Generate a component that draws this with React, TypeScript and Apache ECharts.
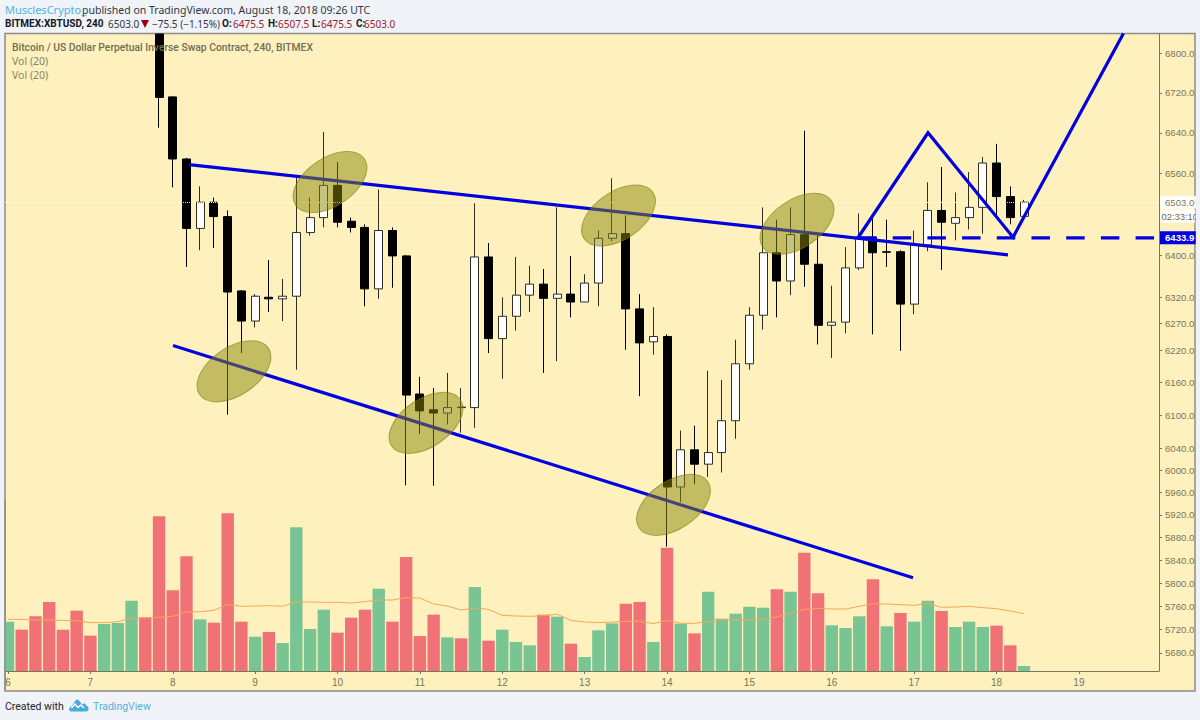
import React, { useEffect, useRef } from "react";
import * as echarts from "echarts";

// x values are days of August 2018; one bar lasts 4 hours
const barsPerDay = 6;
const firstDay = 6;
const firstCandleIndex = 11;
const dayTicks = [6, 7, 8, 9, 10, 11, 12, 13, 14, 15, 16, 17, 18, 19];
const priceTicks = [6800, 6720, 6640, 6560, 6400, 6320, 6270, 6220, 6160, 6100, 6040, 6000, 5960, 5920, 5880, 5840, 5800, 5760, 5720, 5680];

const opens = [6840, 6712, 6588, 6452, 6503, 6475, 6332, 6275, 6320, 6317, 6322, 6444, 6473, 6536, 6466, 6454, 6336, 6448, 6399, 6139, 6110, 6104, 6114, 6114, 6397, 6242, 6284, 6324, 6345, 6318, 6326, 6311, 6347, 6433, 6442, 6298, 6236, 6246, 5970, 6037, 6011, 6032, 6090, 6195, 6286, 6405, 6351, 6440, 6383, 6267, 6273, 6376, 6435, 6407, 6407, 6307, 6420, 6487, 6462, 6473, 6493, 6580, 6514, 6475.5];
const closes = [6711, 6588, 6452, 6503, 6475, 6330, 6275, 6322, 6317, 6322, 6444, 6473, 6536, 6464, 6454, 6336, 6448, 6399, 6137, 6108, 6104, 6114, 6115, 6397, 6242, 6284, 6324, 6345, 6318, 6326, 6311, 6347, 6433, 6442, 6298, 6234, 6246, 5970, 6037, 6011, 6032, 6090, 6195, 6286, 6405, 6351, 6440, 6383, 6267, 6273, 6376, 6435, 6405, 6406, 6307, 6420, 6487, 6464, 6473, 6493, 6580, 6514, 6473, 6503];
const lows = [6650, 6532, 6378, 6410, 6414, 6101, 6215, 6263, 6292, 6275, 6184, 6438, 6454, 6454, 6444, 6303, 6317, 6338, 5973, 6066, 5972, 6083, 6068, 6077, 6215, 6167, 6257, 6292, 6178, 6200, 6282, 6311, 6303, 6427, 6221, 6135, 6212, 5864, 5943, 5975, 5988, 5996, 6057, 6184, 6259, 6282, 6324, 6340, 6231, 6206, 6252, 6372, 6250, 6378, 6219, 6288, 6408, 6372, 6429, 6450, 6442, 6473, 6460, 6475.5];
const highs = [6840, 6713, 6590, 6534, 6512, 6487, 6334, 6326, 6391, 6355, 6552, 6512, 6642, 6582, 6473, 6460, 6528, 6454, 6401, 6171, 6150, 6178, 6150, 6501, 6424, 6320, 6397, 6380, 6374, 6493, 6399, 6364, 6448, 6550, 6477, 6326, 6301, 6250, 6072, 6081, 6182, 6165, 6240, 6301, 6493, 6469, 6493, 6644, 6442, 6342, 6416, 6481, 6471, 6469, 6410, 6448, 6542, 6572, 6522, 6562, 6592, 6618, 6534, 6507.5];

const volumes = [148, 124, 164, 207, 124, 181, 106, 141, 144, 211, 161, 464, 242, 344, 155, 145, 473, 148, 103, 117, 84, 431, 126, 184, 115, 160, 184, 247, 148, 342, 105, 169, 101, 98, 252, 91, 124, 87, 77, 169, 163, 82, 42, 122, 143, 202, 207, 87, 370, 142, 113, 238, 157, 172, 193, 190, 245, 238, 355, 233, 137, 129, 164, 275, 134, 174, 148, 211, 180, 132, 148, 132, 136, 77, 15];
const volumeSides = "GRRRRRRGGGRRRRGRRRGRGGGGRRRGRRRRGRGRGGGRGRGGGRRGRGRGGGGGRGRRGGGRGRGGRGGGRRG";
const volumeAverage = [155, 155, 153, 153, 152, 151, 145, 145, 148, 158, 160, 161, 164, 177, 178, 182, 199, 194, 195, 196, 194, 208, 207, 206, 206, 204, 208, 213, 213, 220, 219, 201, 195, 183, 189, 185, 167, 165, 164, 166, 170, 152, 147, 145, 147, 149, 149, 142, 152, 143, 143, 148, 153, 154, 153, 155, 162, 173, 185, 188, 186, 186, 194, 202, 201, 199, 197, 203, 191, 192, 194, 190, 187, 180, 172];

const resistanceDays = [8.197, 18.139];
const resistancePrices = [6577, 6401];
const supportDays = [8.003, 16.986];
const supportPrices = [6229, 5809.5];
const projectionDays = [16.318, 17.168, 18.2, 19.54];
const projectionPrices = [6434, 6640, 6435, 6841];
const levelStartDay = 16.318;
const levelPrice = 6433.9;
const lastPrice = 6503;

const highlightDays = [9.909, 8.743, 11.074, 13.411, 14.078, 15.578];
const highlightPrices = [6542.6, 6181, 6086, 6477, 5938, 6461];

const PAGE = "#f0f3f8";
const PANE = "#fff1bd";
const AXIS_TEXT = "#77755c";
const BLUE = "#0000e0";
const RED = "#f17276";
const GREEN = "#79c493";
const MAROON = "#a01c2c";
const UI_FONT = "'Noto Sans', sans-serif";
const BOLD_FONT = "Roboto, sans-serif";
const AXIS_FONT = "'Liberation Sans', Arial, sans-serif";

const dayOfBar = (i: number) => firstDay + i / barsPerDay;

echarts.graphic.registerShape(
  "tvCloud",
  echarts.graphic.extendPath(
    "M2 12.5C-0.5 12 -0.5 8 2.5 7.5L6.5 1.5C7.5 0 9 0 10 1.5L13 5.5C15 3.5 17 4.5 17 6.5C20 7 20.5 12 17.5 12.5Z",
    {}
  ) as any
);

function label(text: string, x: number, y: number, fill: string, fontSize = 10.5, fontWeight: any = "normal", font = UI_FONT) {
  return {
    type: "text",
    x,
    y,
    z: 40,
    silent: true,
    style: { text, fill, font: `${fontWeight} ${fontSize}px ${font}`, verticalAlign: "middle" },
  };
}

export default function App() {
  const ref = useRef<HTMLDivElement>(null);

  useEffect(() => {
    const chart = echarts.init(ref.current!, null, { renderer: "svg" });

    const candles = opens.map((o, i) => [dayOfBar(i + firstCandleIndex), o, closes[i], lows[i], highs[i]]);
    const volumeBars = volumes.map((v, i) => ({
      value: [dayOfBar(i), v],
      itemStyle: { color: volumeSides[i] === "G" ? GREEN : RED },
    }));
    const averageLine = volumeAverage.map((v, i) => [dayOfBar(i), v]);
    const pairs = (xs: number[], ys: number[]) => xs.map((x, i) => [x, ys[i]]);
    const thick = (data: number[][], name: string) => ({
      type: "line",
      name,
      data,
      xAxisIndex: 0,
      yAxisIndex: 0,
      z: 5,
      symbol: "none",
      silent: true,
      clip: true,
      lineStyle: { color: BLUE, width: 3.2, cap: "butt", join: "miter" },
    });

    chart.setOption({
      animation: false,
      backgroundColor: PAGE,
      textStyle: { fontFamily: AXIS_FONT },
      grid: { left: 5, right: 41, top: 33.5, bottom: 49, containLabel: false },
      xAxis: {
        type: "value",
        min: 5.9636,
        max: 19.972,
        splitLine: { show: false },
        axisLine: { show: true, onZero: false, lineStyle: { color: "#77765f", width: 1 } },
        axisTick: { show: true, length: 3, customValues: dayTicks, lineStyle: { color: "#77765f" } },
        axisLabel: { customValues: dayTicks, color: AXIS_TEXT, fontSize: 10, margin: 6, formatter: (v: number) => String(v) },
      },
      yAxis: [
        {
          type: "log",
          logBase: 10,
          position: "right",
          min: 5649,
          max: 6841,
          splitLine: { show: false },
          axisLine: { show: true, lineStyle: { color: "#77765f", width: 1 } },
          axisTick: { show: true, length: 3, customValues: priceTicks, lineStyle: { color: "#77765f" } },
          axisLabel: { customValues: priceTicks, color: AXIS_TEXT, fontSize: 9.6, margin: 6, formatter: (v: number) => Number(v).toFixed(1) },
        },
        { type: "value", show: false, min: 0, max: 1912.5, splitLine: { show: false } },
      ],
      series: [
        {
          type: "bar",
          name: "Vol",
          xAxisIndex: 0,
          yAxisIndex: 1,
          data: volumeBars,
          barWidth: 12.4,
          z: 2,
          silent: true,
        },
        {
          type: "line",
          name: "Vol MA",
          xAxisIndex: 0,
          yAxisIndex: 1,
          data: averageLine,
          symbol: "none",
          z: 3,
          silent: true,
          lineStyle: { color: "#f5a65b", width: 1 },
        },
        {
          type: "candlestick",
          name: "XBTUSD",
          xAxisIndex: 0,
          yAxisIndex: 0,
          data: candles,
          barWidth: 8.5,
          z: 4,
          silent: true,
          itemStyle: {
            color: "#ffffff",
            color0: "#000000",
            borderColor: "#2e2e22",
            borderColor0: "#000000",
            borderColorDoji: "#2e2e22",
            borderWidth: 1,
          },
          markLine: {
            silent: true,
            symbol: "none",
            precision: 1,
            data: [
              {
                yAxis: lastPrice,
                lineStyle: { color: "#ffffff", type: "dotted", width: 1, opacity: 0.9 },
                label: {
                  show: true,
                  position: "end",
                  distance: 1,
                  formatter: lastPrice.toFixed(1),
                  color: "#6a6850",
                  backgroundColor: "#ffffff",
                  fontSize: 9.6,
                  padding: [2, 4, 1, 5],
                  fontFamily: AXIS_FONT,
                },
              },
            ],
          },
        },
        thick(pairs(resistanceDays, resistancePrices), "Resistance"),
        thick(pairs(supportDays, supportPrices), "Support"),
        thick(pairs(projectionDays, projectionPrices), "Projection"),
        {
          type: "line",
          name: "Level",
          data: [[levelStartDay, levelPrice], [19.972, levelPrice]],
          symbol: "none",
          z: 5,
          silent: true,
          lineStyle: { color: BLUE, width: 3.2, type: [18.5, 16.2], cap: "butt" },
          endLabel: {
            show: true,
            formatter: levelPrice.toFixed(1),
            distance: 1,
            color: "#ffffff",
            backgroundColor: BLUE,
            fontWeight: "bold",
            fontSize: 9.6,
            padding: [2, 4, 1, 5],
            fontFamily: AXIS_FONT,
          },
        },
        {
          type: "custom",
          name: "Highlights",
          xAxisIndex: 0,
          yAxisIndex: 0,
          z: 6,
          silent: true,
          clip: true,
          data: pairs(highlightDays, highlightPrices),
          renderItem: (_: any, api: any) => {
            const [cx, cy] = api.coord([api.value(0), api.value(1)]);
            return {
              type: "ellipse",
              x: cx,
              y: cy,
              rotation: (34 * Math.PI) / 180,
              shape: { cx: 0, cy: 0, rx: 41.5, ry: 24 },
              style: { fill: "rgba(137,135,7,0.5)", stroke: "rgba(120,118,0,0.55)", lineWidth: 1 },
            };
          },
        },
      ],
      graphic: [
        // panel behind the plot
        { type: "rect", z: -10, silent: true, shape: { x: 5, y: 33.5, width: 1190, height: 657.5 }, style: { fill: PANE, stroke: "#8c8c86", lineWidth: 1.5 } },
        // margin left of the pane, over the clipped first bar
        { type: "rect", z: 30, silent: true, shape: { x: 0, y: 500, width: 4.3, height: 191 }, style: { fill: PAGE } },
        { type: "line", z: 31, silent: true, shape: { x1: 5, y1: 500, x2: 5, y2: 691 }, style: { stroke: "#8c8c86", lineWidth: 1.5 } },
        // header
        label("MusclesCrypto_", 5, 9.5, "#4fb3e0", 11),
        label("published on TradingView.com, August 18, 2018 09:26 UTC", 82, 9.5, "#33363f", 10.5),
        label("BITMEX:XBTUSD, 240", 5, 23.5, "#15171c", 10, "bold", BOLD_FONT),
        label("6503.0", 108, 23.5, "#33363f", 10),
        { type: "polygon", z: 40, silent: true, shape: { points: [[141, 20], [149, 20], [145, 28]] }, style: { fill: "#9a0010" } },
        label("\u221275.5 (\u22121.15%)", 152, 23.5, "#33363f", 10),
        label("O:", 222, 23.5, "#15171c", 10, "bold", BOLD_FONT),
        label("6475.5", 233, 23.5, MAROON, 10),
        label("H:", 268, 23.5, "#15171c", 10, "bold", BOLD_FONT),
        label("6507.5", 278, 23.5, MAROON, 10),
        label("L:", 312, 23.5, "#15171c", 10, "bold", BOLD_FONT),
        label("6475.5", 321, 23.5, MAROON, 10),
        label("C:", 356, 23.5, "#15171c", 10, "bold", BOLD_FONT),
        label("6503.0", 364, 23.5, MAROON, 10),
        // legend
        label("Bitcoin / US Dollar Perpetual Inverse Swap Contract, 240, BITMEX", 12, 47.5, "#6f6d55", 10.3, 500, BOLD_FONT),
        label("Vol (20)", 12, 61, "#85836b", 10.5),
        label("Vol (20)", 12, 74.5, "#85836b", 10.5),
        // countdown
        { type: "rect", z: 39, silent: true, shape: { x: 1160, y: 209.5, width: 35, height: 13 }, style: { fill: "#ffffff" } },
        label("02:33:10", 1161.5, 216, "#6a6850", 9.4, "normal", AXIS_FONT),
        { type: "rect", z: 41, silent: true, shape: { x: 1195.8, y: 190, width: 6, height: 60 }, style: { fill: PAGE } },
        // footer
        label("Created with", 5, 706, "#22252c", 10.5, "normal", BOLD_FONT),
        { type: "tvCloud", z: 40, silent: true, x: 69, y: 699, style: { fill: "#4aa9dd" } },
        { type: "polyline", z: 41, silent: true, x: 69, y: 699, shape: { points: [[2.5, 9], [6, 5], [9, 8.5], [12, 6], [15, 9]] }, style: { stroke: "#ffffff", fill: "none", lineWidth: 1.4 } },
        label("TradingView", 93, 706, "#56b0dc", 10.5, "normal", BOLD_FONT),
      ],
    });

    return () => chart.dispose();
  }, []);

  return <div ref={ref} style={{ position: "fixed", left: 0, top: 0, width: 1200, height: 720 }} />;
}
